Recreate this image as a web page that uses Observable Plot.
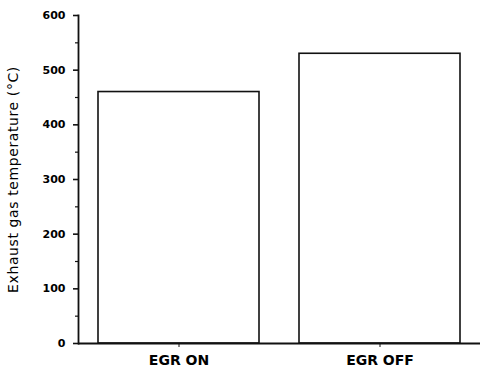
<!DOCTYPE html>
<html>
<head>
<meta charset="utf-8">
<script src="https://cdn.jsdelivr.net/npm/d3@7"></script>
<script src="https://cdn.jsdelivr.net/npm/@observablehq/plot@0.6"></script>
<style>
  html, body { margin: 0; padding: 0; background: #fff; }
  svg { display: block; }
</style>
</head>
<body>
<div id="chart"></div>
<script>
const categories = ["EGR ON", "EGR OFF"];
const temperatures = [460, 530];
const majorTicks = [0, 100, 200, 300, 400, 500, 600];
const minorTicks = [50, 150, 250, 350, 450, 550];
const yLabel = "Exhaust gas temperature (°C)";

const data = categories.map((c, i) => ({cat: c, val: temperatures[i]}));

const chart = Plot.plot({
  width: 480,
  height: 372,
  marginTop: 15,
  marginBottom: 29,
  marginLeft: 78,
  marginRight: 0,
  style: {background: "#fff", color: "#000"},
  x: {domain: categories, paddingInner: 0.2, paddingOuter: 0.1, label: null},
  y: {domain: [0, 600]},
  marks: [
    Plot.barY(data, {x: "cat", y: "val", fill: "white", stroke: "#111", strokeWidth: 1.6}),
    Plot.ruleY([0], {stroke: "#111", strokeWidth: 1.8}),
    Plot.frame({anchor: "left", stroke: "#111", strokeWidth: 1.8}),
    Plot.axisX({
      tickSize: 4, tickPadding: 8, stroke: "#111",
      fontFamily: "DejaVu Sans", fontSize: 14, fontWeight: "bold",
      style: "letter-spacing: 0.8px", label: null
    }),
    Plot.axisY({
      ticks: majorTicks, tickSize: 5, tickPadding: 8, stroke: "#111", strokeWidth: 1.6,
      fontFamily: "DejaVu Sans", fontSize: 11, fontWeight: "bold",
      label: yLabel, labelAnchor: "center", labelArrow: "none", labelOffset: 70
    }),
    Plot.axisY({ticks: minorTicks, tickSize: 3, text: null, label: null, stroke: "#111", strokeWidth: 1.2})
  ]
});

chart.querySelectorAll("g[aria-label='y-axis label'] text").forEach(t => {
  t.setAttribute("font-family", "DejaVu Sans");
  t.setAttribute("font-size", "14");
  t.setAttribute("font-weight", "normal");
  t.style.letterSpacing = "0.6px";
});

document.getElementById("chart").appendChild(chart);
</script>
</body>
</html>
